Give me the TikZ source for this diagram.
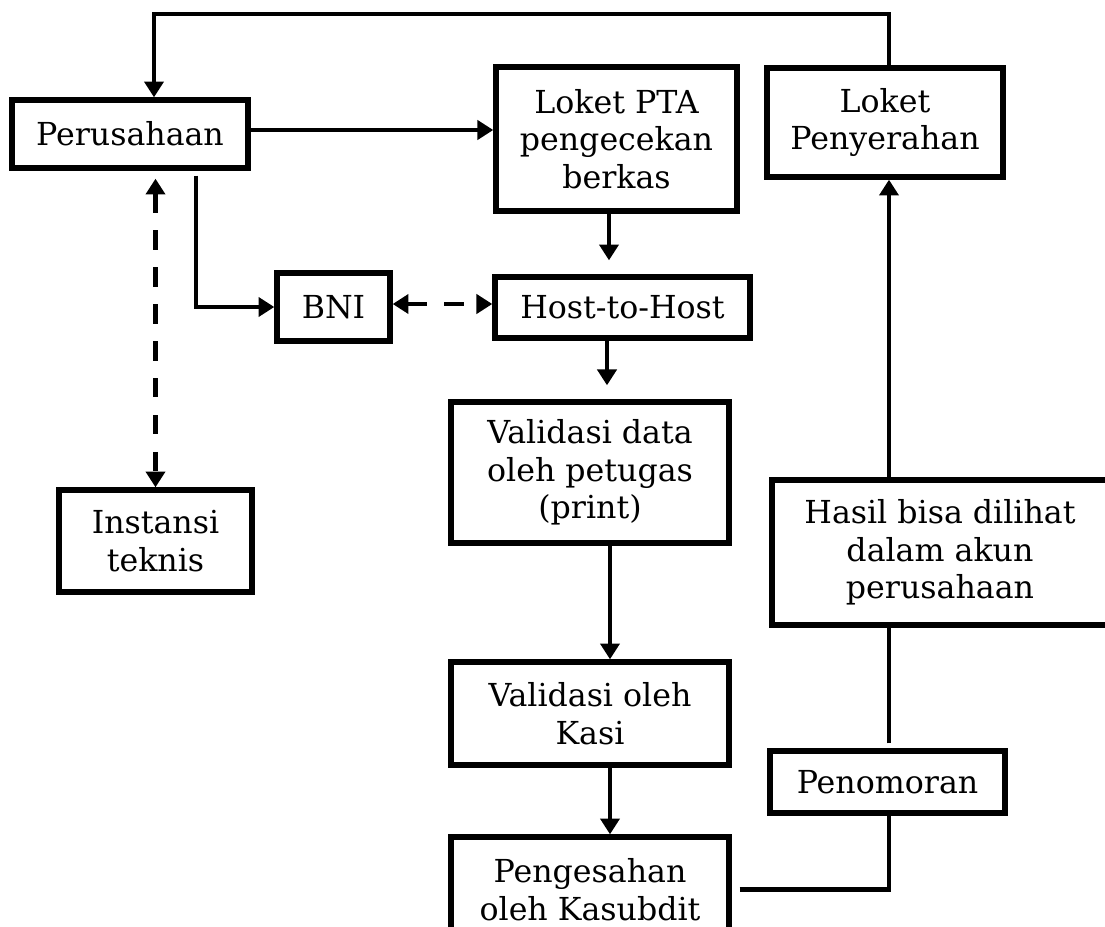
\documentclass[tikz,border=0pt]{standalone}
\usepackage{fontspec}
\setmainfont{DejaVu Serif}
\usetikzlibrary{arrows.meta}

\begin{document}
\begin{tikzpicture}[x=0.01cm, y=-0.01cm,
    box/.style={draw, line width=1.5pt, align=center, inner sep=0pt,
        font=\fontsize{9}{10.7}\selectfont},
    arr/.style={line width=1.35pt, -{Triangle[length=4.5pt,width=5.4pt]}},
    dasharr/.style={line width=1.35pt, dash pattern=on 5.5pt off 5pt,
        {Triangle[length=4.5pt,width=5.4pt]}-{Triangle[length=4.5pt,width=5.4pt]}},
    conn/.style={line width=1.35pt}]
    \useasboundingbox (0,0) rectangle (1105,927);
    \clip (0,0) rectangle (1105,927);

    \node[box, minimum width=2.36cm, minimum height=0.68cm] (per) at (130,134) {Perusahaan};
    \node[box, minimum width=2.41cm, minimum height=1.44cm] (pta) at (616.5,139) {Loket PTA\\pengecekan\\berkas};
    \node[box, minimum width=2.36cm, minimum height=1.09cm] (pny) at (885,122.5) {Loket\\Penyerahan};
    \node[box, minimum width=1.13cm, minimum height=0.68cm] (bni) at (333.5,307) {BNI};
    \node[box, minimum width=2.55cm, minimum height=0.61cm] (host) at (622.5,307.5) {Host-to-Host};
    \node[box, minimum width=1.93cm, minimum height=1.02cm] (inst) at (155.5,541) {Instansi\\teknis};
    \node[box, minimum width=2.78cm, minimum height=1.41cm] (vdata) at (590,472.5) {Validasi data\\oleh petugas\\(print)};
    \node[box, minimum width=2.78cm, minimum height=1.03cm] (kasi) at (590,713.5) {Validasi oleh\\Kasi};
    \node[box, minimum width=2.78cm, minimum height=1.05cm] (sah) at (590,889.5) {Pengesahan\\oleh Kasubdit};
    \node[box, minimum width=2.35cm, minimum height=0.62cm] (nomor) at (887.5,782) {Penomoran};
    \node[box, minimum width=3.36cm, minimum height=1.45cm] (hasil) at (940,552.5) {Hasil bisa dilihat\\dalam akun\\perusahaan};

    \coordinate (top) at (154,14);
    \coordinate (rline) at (889,0);
    \coordinate (c1) at (609,0);
    \coordinate (c2) at (607,0);
    \coordinate (c3) at (610,0);
    \coordinate (c4) at (196,0);
    \coordinate (c5) at (0,130);
    \coordinate (c6) at (0,304);

    \draw[arr] (rline |- pny.north) |- (top) -- (top |- per.north);
    \draw[arr] (c5 -| per.east) -- (c5 -| pta.west);
    \draw[arr, shorten <=0.05cm] (c4 |- per.south) |- (bni.west);
    \draw[dasharr] (c6 -| bni.east) -- (c6 -| host.west);
    \draw[dasharr, shorten <=0.08cm] (inst.north |- per.south) -- (inst.north);
    \draw[arr, shorten >=0.14cm] (c1 |- pta.south) -- (c1 |- host.north);
    \draw[arr, shorten >=0.14cm] (c2 |- host.south) -- (c2 |- vdata.north);
    \draw[arr] (c3 |- vdata.south) -- (c3 |- kasi.north);
    \draw[arr] (c3 |- kasi.south) -- (c3 |- sah.north);
    \draw[conn, shorten <=0.08cm] (sah.east) -| (rline |- nomor.south);
    \draw[conn, shorten <=0.05cm] (rline |- nomor.north) -- (rline |- hasil.south);
    \draw[arr] (rline |- hasil.north) -- (rline |- pny.south);
\end{tikzpicture}
\end{document}
